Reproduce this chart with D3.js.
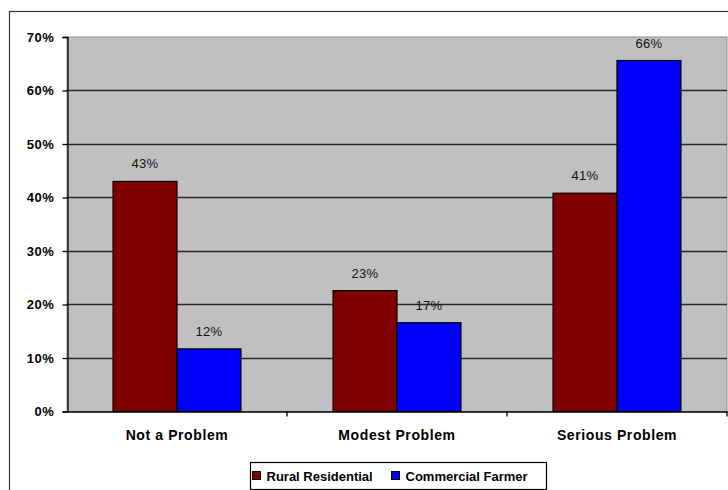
<!DOCTYPE html>
<html>
<head>
<meta charset="utf-8">
<script src="https://cdn.jsdelivr.net/npm/d3@7/dist/d3.min.js"></script>
<style>
  body { margin: 0; background: #fff; }
  svg text { font-family: Arial, "Liberation Sans", sans-serif; fill: #000; }
</style>
</head>
<body>
<div id="chart"></div>
<script>
// values
var categories = ["Not a Problem", "Modest Problem", "Serious Problem"];
var seriesNames = ["Rural Residential", "Commercial Farmer"];
var rural = [0.43, 0.226, 0.408];
var farmer = [0.117, 0.166, 0.656];
var colors = ["#800000", "#0000ff"];
var yTicks = [0, 0.1, 0.2, 0.3, 0.4, 0.5, 0.6, 0.7];

var width = 728, height = 490;
var margin = {left: 67, right: 1, top: 37, bottom: 79};

var svg = d3.select("#chart").append("svg")
    .attr("width", width)
    .attr("height", height);

// outer chart border (runs off the right / bottom of the image)
svg.append("rect")
    .attr("x", 9.5).attr("y", 11.5)
    .attr("width", 740).attr("height", 500)
    .attr("fill", "#fff")
    .attr("stroke", "#333")
    .attr("stroke-width", 1.2);

var x0 = d3.scaleBand().domain(categories)
    .range([margin.left, width - margin.right]);
var x1 = d3.scaleBand().domain(seriesNames)
    .range([0, x0.bandwidth()])
    .paddingOuter(0.72);
var y = d3.scaleLinear().domain([0, 0.7])
    .range([height - margin.bottom + 0.5, margin.top]);

// plot area
svg.append("rect")
    .attr("x", margin.left).attr("y", y(0.7))
    .attr("width", width - margin.right - margin.left)
    .attr("height", y(0) - y(0.7))
    .attr("fill", "#c0c0c0")
    .attr("stroke", "#909090");

// gridlines
svg.append("g").selectAll("line")
    .data(yTicks.filter(function(d) { return d > 0 && d < 0.7; }))
    .enter().append("line")
    .attr("x1", margin.left).attr("x2", width - margin.right)
    .attr("y1", function(d) { return Math.round(y(d)) + 0.5; })
    .attr("y2", function(d) { return Math.round(y(d)) + 0.5; })
    .attr("stroke", "#2a2a2a")
    .attr("stroke-width", 1.4);

var data = [];
categories.forEach(function(c, i) {
  data.push({cat: c, name: seriesNames[0], value: rural[i], color: colors[0]});
  data.push({cat: c, name: seriesNames[1], value: farmer[i], color: colors[1]});
});

svg.append("g").selectAll("rect")
    .data(data)
    .enter().append("rect")
    .attr("x", function(d) { return x0(d.cat) + x1(d.name); })
    .attr("y", function(d) { return y(d.value); })
    .attr("width", x1.bandwidth())
    .attr("height", function(d) { return y(0) - y(d.value); })
    .attr("fill", function(d) { return d.color; })
    .attr("stroke", "#000")
    .attr("stroke-width", 1.2);

svg.append("g").selectAll("text")
    .data(data)
    .enter().append("text")
    .attr("x", function(d) { return x0(d.cat) + x1(d.name) + x1.bandwidth() / 2; })
    .attr("y", function(d) { return y(d.value) - 13; })
    .attr("text-anchor", "middle")
    .style("font-size", "13px")
    .style("letter-spacing", "0.3px")
    .style("fill", "#111")
    .text(function(d) { return d3.format(".0%")(d.value); });

// y axis
var yAxis = d3.axisLeft(y).tickValues(yTicks).tickFormat(d3.format(".0%"))
    .tickSize(5).tickPadding(8);
svg.append("g")
    .attr("class", "axis yaxis")
    .attr("transform", "translate(" + (margin.left + 0.5) + ",0)")
    .call(yAxis)
    .call(function(g) {
      g.selectAll("line, path").attr("stroke", "#000").attr("stroke-width", 1.3);
      g.selectAll("text")
        .style("font-size", "13px")
        .style("font-weight", "bold")
        .style("letter-spacing", "0.6px");
    });

// x axis
var xAxis = d3.axisBottom(x0).tickSize(0).tickPadding(19);
svg.append("g")
    .attr("class", "axis xaxis")
    .attr("transform", "translate(0," + y(0) + ")")
    .call(xAxis)
    .call(function(g) {
      g.select("path").attr("stroke", "#000").attr("stroke-width", 1.5);
      g.selectAll("text")
        .style("font-size", "14px")
        .style("font-weight", "bold")
        .style("letter-spacing", "0.6px");
    });

// category separator ticks
svg.append("g").selectAll("line")
    .data(categories.slice(1).concat(["end"]))
    .enter().append("line")
    .attr("x1", function(d, i) { return i < 2 ? x0(d) : width - margin.right; })
    .attr("x2", function(d, i) { return i < 2 ? x0(d) : width - margin.right; })
    .attr("y1", y(0)).attr("y2", y(0) + 5)
    .attr("stroke", "#000")
    .attr("stroke-width", 1.3);

// legend
var legend = svg.append("g").attr("transform", "translate(250.5,462.5)");
legend.append("rect")
    .attr("width", 296).attr("height", 27)
    .attr("fill", "#fff")
    .attr("stroke", "#000")
    .attr("stroke-width", 1.2);
var item = legend.selectAll(".item")
    .data(seriesNames)
    .enter().append("g")
    .attr("class", "item")
    .attr("transform", function(d, i) { return "translate(" + (i === 0 ? 2 : 141) + ",0)"; });
item.append("rect")
    .attr("x", 0).attr("y", 9)
    .attr("width", 8).attr("height", 8)
    .attr("fill", function(d, i) { return colors[i]; })
    .attr("stroke", "#000");
item.append("text")
    .attr("x", 14).attr("y", 18)
    .style("font-size", "13px")
    .style("font-weight", "bold")
    .text(function(d) { return d; });
</script>
</body>
</html>
